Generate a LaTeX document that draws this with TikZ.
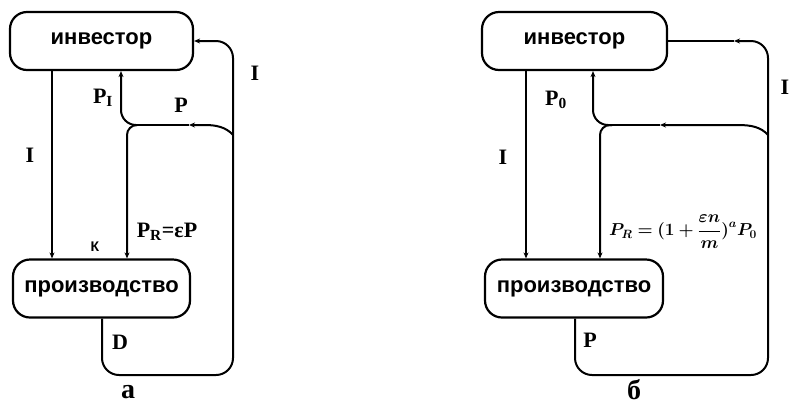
\documentclass[tikz,border=0pt]{standalone}
\usepackage{amsmath}
\usepackage{bm}
\usepackage{fontspec}
\setmainfont{Liberation Serif}
\setsansfont{Liberation Sans}
\usetikzlibrary{arrows.meta}
\newsavebox{\prbox}

\begin{document}
\sbox{\prbox}{\fontsize{18}{20}\selectfont$\bm{P_R=(1+\dfrac{\varepsilon n}{m})^{a}P_0}$}%
\begin{tikzpicture}[x=1pt,y=-1pt,line width=2pt,>={Stealth[length=6pt,width=5pt]}]
	\tikzstyle{block}=[draw=black,line width=2.2pt,rounded corners=17pt,inner sep=0pt,minimum height=58pt,font=\sffamily\bfseries\fontsize{22}{24}\selectfont]
	\tikzstyle{lbl}=[inner sep=0pt,font=\bfseries\fontsize{22}{24}\selectfont]
	\useasboundingbox (0,0) rectangle (792,408);
	% (a)
	\node[block,minimum width=183pt](inv1) at (101.5,41) {инвестор};
	\node[block,minimum width=177pt](prod1) at (101.5,288.5) {производство};
	\coordinate (j1) at (137,125);
	\coordinate (m1) at (189,125);
	\coordinate (s1) at (233,135);
	\coordinate (c1) at (233,375);
	\draw[->](inv1.south -| 52,0) -- (prod1.north -| 52,0);
	\draw[->,rounded corners=17pt](prod1.south -| 102,0) |- (c1) |- (inv1.east);
	\draw[->](s1) .. controls (226,127) and (216,125) .. (205,125) -- (m1);
	\draw(m1) -- (j1);
	\draw[->,rounded corners=15pt](j1) -| (inv1.south -| 121,0);
	\draw[->,rounded corners=10pt](j1) -| (prod1.north -| 127,0);
	\node[lbl](l1) at (30,155) {I};
	\node[lbl](l2) at (103,98) {P\textsubscript{I}};
	\node[lbl](l3) at (181,105) {P};
	\node[lbl](l4) at (255,73) {I};
	\node[lbl](l5) at (167,232) {P\textsubscript{R}=εP};
	\node[inner sep=0pt,font=\sffamily\bfseries\fontsize{14}{16}\selectfont](l6) at (95,247) {К};
	\node[lbl](l7) at (120,342) {D};
	\node[inner sep=0pt,font=\bfseries\fontsize{28}{30}\selectfont](ta) at (128,392) {а};
	% (b)
	\node[block,minimum width=185pt](inv2) at (574.5,41) {инвестор};
	\node[block,minimum width=178pt](prod2) at (574,288.5) {производство};
	\coordinate (j2) at (612,125);
	\coordinate (m2) at (660,125);
	\coordinate (s2) at (768,135);
	\coordinate (c2) at (768,375);
	\coordinate (m3) at (734,41);
	\draw[->](inv2.south -| 526,0) -- (prod2.north -| 526,0);
	\draw[->,rounded corners=17pt](prod2.south -| 575,0) |- (c2) |- (m3);
	\draw(m3) -- (inv2.east);
	\draw[->](s2) .. controls (761,127) and (751,125) .. (738,125) -- (m2);
	\draw(m2) -- (j2);
	\draw[->,rounded corners=15pt](j2) -| (inv2.south -| 593,0);
	\draw[->,rounded corners=10pt](j2) -| (prod2.north -| 600,0);
	\node[lbl](r1) at (503,157) {I};
	\node[lbl](r2) at (556,100) {P\textsubscript{0}};
	\node[lbl](r3) at (785,87) {I};
	\node[inner sep=0pt](r4) at (683,232) {\usebox{\prbox}};
	\node[lbl](r5) at (590,340) {P};
	\node[inner sep=0pt,font=\bfseries\fontsize{28}{30}\selectfont](tb) at (634,390) {б};
\end{tikzpicture}
\end{document}
